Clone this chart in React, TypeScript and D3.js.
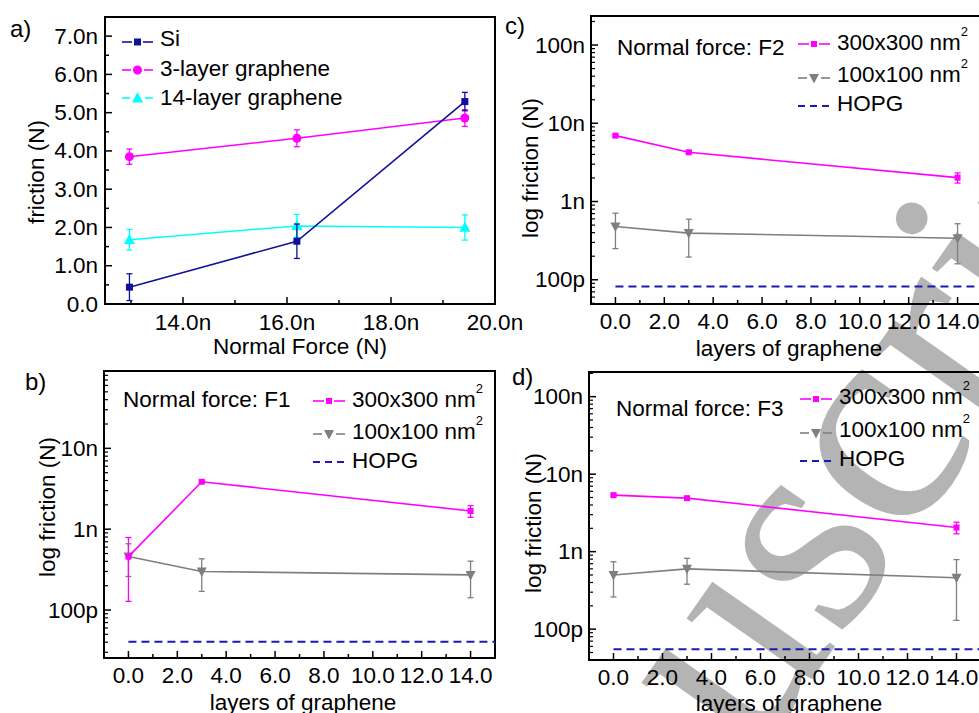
import React from 'react';
import * as d3 from 'd3';

const W = 979;
const H = 713;
const FONT = '"Liberation Sans", Arial, sans-serif';
const FS = 22.5;

// ---- panel a: friction vs normal force ----
const normalForce = [12.97, 16.19, 19.42];
const siFriction = [0.44, 1.64, 5.29];
const siErr = [0.35, 0.45, 0.24];
const g3Friction = [3.85, 4.33, 4.86];
const g3Err = [0.2, 0.22, 0.22];
const g14Friction = [1.68, 2.04, 2.0];
const g14Err = [0.27, 0.3, 0.33];
const forceTicks = [14, 16, 18, 20];
const frictionTicks = [0, 1, 2, 3, 4, 5, 6, 7];

// ---- panels b, c, d: friction vs layers ----
const layers = [0, 3, 14];
const layerTicks = [0, 2, 4, 6, 8, 10, 12, 14];
const logTicks = [1e-10, 1e-9, 1e-8, 1e-7];
const logLabels = ['100p', '1n', '10n', '100n'];

const f1Big = [0.458e-9, 3.86e-9, 1.68e-9];
const f1BigErr = [0.33e-9, 0.12e-9, 0.28e-9];
const f1Small = [0.46e-9, 0.3e-9, 0.272e-9];
const f1SmallErr = [0.2e-9, 0.13e-9, 0.13e-9];
const f1Hopg = 40.5e-12;

const f2Big = [6.95e-9, 4.26e-9, 2.02e-9];
const f2BigErr = [0.2e-9, 0.15e-9, 0.3e-9];
const f2Small = [0.48e-9, 0.395e-9, 0.34e-9];
const f2SmallErr = [0.23e-9, 0.2e-9, 0.18e-9];
const f2Hopg = 82e-12;

const f3Big = [5.36e-9, 4.9e-9, 2.05e-9];
const f3BigErr = [0.2e-9, 0.2e-9, 0.35e-9];
const f3Small = [0.5e-9, 0.6e-9, 0.46e-9];
const f3SmallErr = [0.24e-9, 0.22e-9, 0.33e-9];
const f3Hopg = 55e-12;

const NAVY = '#10109a';
const MAGENTA = '#ff00ff';
const CYAN = '#00ffff';
const GREY = '#7f7f7f';
const HOPG = '#1a1ab0';

const Marker = ({ kind, x, y, color, s }: { kind: string; x: number; y: number; color: string; s: number }) => {
  if (kind === 'square') return <rect x={x - s / 2} y={y - s / 2} width={s} height={s} fill={color} />;
  if (kind === 'circle') return <circle cx={x} cy={y} r={s / 2} fill={color} />;
  if (kind === 'up') return <path d={`M${x},${y - s * 0.55}L${x + s / 2},${y + s * 0.4}L${x - s / 2},${y + s * 0.4}Z`} fill={color} />;
  return <path d={`M${x},${y + s * 0.55}L${x + s / 2},${y - s * 0.4}L${x - s / 2},${y - s * 0.4}Z`} fill={color} />;
};

const Series = ({ xs, ys, errs, x, y, color, kind, s }: any) => {
  const line = d3.line<number>().x((_, i) => x(xs[i])).y(v => y(v));
  return (
    <g>
      <path d={line(ys) || ''} fill="none" stroke={color} strokeWidth={1.6} />
      {ys.map((v: number, i: number) => {
        const cx = x(xs[i]);
        const y1 = y(v + errs[i]);
        const y0 = y(v - errs[i]);
        return (
          <g key={i} stroke={color} strokeWidth={1.3}>
            <line x1={cx} x2={cx} y1={y0} y2={y1} />
            <line x1={cx - 3} x2={cx + 3} y1={y0} y2={y0} />
            <line x1={cx - 3} x2={cx + 3} y1={y1} y2={y1} />
          </g>
        );
      })}
      {ys.map((v: number, i: number) => (
        <Marker key={'m' + i} kind={kind} x={x(xs[i])} y={y(v)} color={color} s={s} />
      ))}
    </g>
  );
};

const LegendRow = ({ x0, x1, y, ty, color, kind, s, dashed, children }: any) => {
  const mid = (x0 + x1) / 2;
  return (
    <g>
      {dashed ? (
        <line x1={x0} x2={x1} y1={y} y2={y} stroke={color} strokeWidth={2} strokeDasharray="7,5" />
      ) : (
        <>
          <line x1={x0} x2={mid - s / 2 - 2} y1={y} y2={y} stroke={color} strokeWidth={1.6} />
          <line x1={mid + s / 2 + 2} x2={x1} y1={y} y2={y} stroke={color} strokeWidth={1.6} />
          <Marker kind={kind} x={mid} y={y} color={color} s={s} />
        </>
      )}
      <text x={x1 + 7} y={ty} dominantBaseline="central" fontSize={FS}>{children}</text>
    </g>
  );
};

const Nm2 = ({ text }: { text: string }) => (
  <>
    {text} nm<tspan fontSize={13} dy={-11}>2</tspan>
  </>
);

const PanelA = () => {
  const l = 105, t = 17, r = 495, b = 304;
  const x = d3.scaleLinear().domain([12.5, 20]).range([l, r]);
  const y = d3.scaleLinear().domain([0, 7.5]).range([b, t]);
  const minorY = d3.range(0.5, 7.5, 1);
  const minorX = [13, 15, 17, 19];
  return (
    <g>
      <text x={10} y={28} dominantBaseline="central" fontSize={24}>a)</text>
      <rect x={l} y={t} width={r - l} height={b - t} fill="none" stroke="#000" strokeWidth={2} />
      {frictionTicks.map(v => (
        <g key={v}>
          <line x1={l} x2={l + 7} y1={y(v)} y2={y(v)} stroke="#000" strokeWidth={1.5} />
          <text x={l - 7} y={y(v)} textAnchor="end" dominantBaseline="central" fontSize={FS}>
            {v === 0 ? '0.0' : d3.format('.1f')(v) + 'n'}
          </text>
        </g>
      ))}
      {minorY.map(v => (
        <line key={v} x1={l} x2={l + 4} y1={y(v)} y2={y(v)} stroke="#000" strokeWidth={1.5} />
      ))}
      {forceTicks.map(v => (
        <g key={v}>
          <line x1={x(v)} x2={x(v)} y1={b} y2={b - 7} stroke="#000" strokeWidth={1.5} />
          <text x={x(v)} y={322} textAnchor="middle" dominantBaseline="central" fontSize={FS}>
            {d3.format('.1f')(v) + 'n'}
          </text>
        </g>
      ))}
      {minorX.map(v => (
        <line key={v} x1={x(v)} x2={x(v)} y1={b} y2={b - 4} stroke="#000" strokeWidth={1.5} />
      ))}
      <text x={300} y={346} textAnchor="middle" dominantBaseline="central" fontSize={FS}>Normal Force (N)</text>
      <text transform="translate(36,172) rotate(-90)" textAnchor="middle" dominantBaseline="central" fontSize={FS}>friction (N)</text>
      <Series xs={normalForce} ys={g14Friction} errs={g14Err} x={x} y={y} color={CYAN} kind="up" s={11} />
      <Series xs={normalForce} ys={g3Friction} errs={g3Err} x={x} y={y} color={MAGENTA} kind="circle" s={9} />
      <Series xs={normalForce} ys={siFriction} errs={siErr} x={x} y={y} color={NAVY} kind="square" s={7} />
      <LegendRow x0={122} x1={153} y={42} ty={38} color={NAVY} kind="square" s={7}>Si</LegendRow>
      <LegendRow x0={122} x1={153} y={70} ty={68} color={MAGENTA} kind="circle" s={9}>3-layer graphene</LegendRow>
      <LegendRow x0={122} x1={153} y={98} ty={97} color={CYAN} kind="up" s={11}>14-layer graphene</LegendRow>
    </g>
  );
};

type LogSpec = {
  name: string; force: string;
  l: number; t: number; r: number; b: number; yDomain: [number, number];
  big: number[]; bigErr: number[]; small: number[]; smallErr: number[]; hopg: number;
  namePos: [number, number]; forcePos: [number, number];
  legX: number; legY: number[]; legTY: number[];
  yTitle: [number, number]; tickY: number; titleY: number; titleX: number;
};

const LogPanel = ({ p }: { p: LogSpec }) => {
  const x = d3.scaleLinear().domain([-1, 15]).range([p.l, p.r]);
  const y = d3.scaleLog().domain(p.yDomain).range([p.b, p.t]);
  const minor: number[] = [];
  for (let e = -12; e <= -6; e++) {
    for (let m = 2; m <= 9; m++) {
      const v = m * Math.pow(10, e);
      if (v > p.yDomain[0] && v < p.yDomain[1]) minor.push(v);
    }
  }
  const minorX = [-1, 1, 3, 5, 7, 9, 11, 13, 15];
  const majors = logTicks.filter(v => v > p.yDomain[0] && v < p.yDomain[1]);
  return (
    <g>
      <text x={p.namePos[0]} y={p.namePos[1]} dominantBaseline="central" fontSize={24}>{p.name}</text>
      <rect x={p.l} y={p.t} width={p.r - p.l} height={p.b - p.t} fill="none" stroke="#000" strokeWidth={2} />
      {majors.map(v => (
        <g key={v}>
          <line x1={p.l} x2={p.l + 7} y1={y(v)} y2={y(v)} stroke="#000" strokeWidth={1.5} />
          <text x={p.l - 6} y={y(v)} textAnchor="end" dominantBaseline="central" fontSize={FS}>
            {logLabels[logTicks.indexOf(v)]}
          </text>
        </g>
      ))}
      {minor.map(v => (
        <line key={v} x1={p.l} x2={p.l + 4} y1={y(v)} y2={y(v)} stroke="#000" strokeWidth={1.2} />
      ))}
      {layerTicks.map(v => (
        <g key={v}>
          <line x1={x(v)} x2={x(v)} y1={p.b} y2={p.b - 7} stroke="#000" strokeWidth={1.5} />
          <text x={x(v)} y={p.tickY} textAnchor="middle" dominantBaseline="central" fontSize={FS}>
            {d3.format('.1f')(v)}
          </text>
        </g>
      ))}
      {minorX.map(v => (
        <line key={v} x1={x(v)} x2={x(v)} y1={p.b} y2={p.b - 4} stroke="#000" strokeWidth={1.5} />
      ))}
      <text x={p.titleX} y={p.titleY} textAnchor="middle" dominantBaseline="central" fontSize={FS}>layers of graphene</text>
      <text transform={`translate(${p.yTitle[0]},${p.yTitle[1]}) rotate(-90)`} textAnchor="middle" dominantBaseline="central" fontSize={FS}>log friction (N)</text>
      <line x1={x(0)} x2={p.r} y1={y(p.hopg)} y2={y(p.hopg)} stroke={HOPG} strokeWidth={2} strokeDasharray="8,5" />
      <Series xs={layers} ys={p.small} errs={p.smallErr} x={x} y={y} color={GREY} kind="down" s={10} />
      <Series xs={layers} ys={p.big} errs={p.bigErr} x={x} y={y} color={MAGENTA} kind="square" s={6} />
      <text x={p.forcePos[0]} y={p.forcePos[1]} dominantBaseline="central" fontSize={FS}>{p.force}</text>
      <LegendRow x0={p.legX} x1={p.legX + 32} y={p.legY[0]} ty={p.legTY[0]} color={MAGENTA} kind="square" s={6}>
        <Nm2 text="300x300" />
      </LegendRow>
      <LegendRow x0={p.legX} x1={p.legX + 32} y={p.legY[1]} ty={p.legTY[1]} color={GREY} kind="down" s={10}>
        <Nm2 text="100x100" />
      </LegendRow>
      <LegendRow x0={p.legX} x1={p.legX + 32} y={p.legY[2]} ty={p.legTY[2]} color={HOPG} dashed>HOPG</LegendRow>
    </g>
  );
};

const panels: LogSpec[] = [
  {
    name: 'b)', force: 'Normal force: F1', l: 104, t: 371, r: 495, b: 658, yDomain: [2.55e-11, 9.05e-8],
    big: f1Big, bigErr: f1BigErr, small: f1Small, smallErr: f1SmallErr, hopg: f1Hopg,
    namePos: [25, 381], forcePos: [123, 399], legX: 313, legY: [401, 434, 462], legTY: [399, 431, 460],
    yTitle: [47, 507], tickY: 675, titleY: 702, titleX: 303,
  },
  {
    name: 'c)', force: 'Normal force: F2', l: 591, t: 16, r: 982, b: 304, yDomain: [4.9e-11, 2.35e-7],
    big: f2Big, bigErr: f2BigErr, small: f2Small, smallErr: f2SmallErr, hopg: f2Hopg,
    namePos: [505, 25], forcePos: [617, 47], legX: 798, legY: [44, 78, 106], legTY: [42, 74, 103],
    yTitle: [530, 168], tickY: 321, titleY: 348, titleX: 789,
  },
  {
    name: 'd)', force: 'Normal force: F3', l: 589, t: 372, r: 981, b: 660, yDomain: [4.0e-11, 2.08e-7],
    big: f3Big, bigErr: f3BigErr, small: f3Small, smallErr: f3SmallErr, hopg: f3Hopg,
    namePos: [512, 376], forcePos: [616, 408], legX: 800, legY: [399, 433, 461], legTY: [396, 429, 458],
    yTitle: [533, 523], tickY: 677, titleY: 703, titleX: 789,
  },
];

export default function App() {
  return (
    <svg width={W} height={H} style={{ position: 'absolute', left: 0, top: 0, background: '#fff' }}
      fontFamily={FONT} fill="#000">
      <rect width={W} height={H} fill="#fff" />
      {/* manuscript watermark */}
      <g transform="translate(752,765) rotate(-55)" fontFamily='"Liberation Serif", "DejaVu Serif", serif' fontSize={300} fill="#b4b4b4">
        <text textAnchor="end">Man</text>
        <text>uscript</text>
      </g>
      <PanelA />
      {panels.map(p => <LogPanel key={p.name} p={p} />)}
    </svg>
  );
}
